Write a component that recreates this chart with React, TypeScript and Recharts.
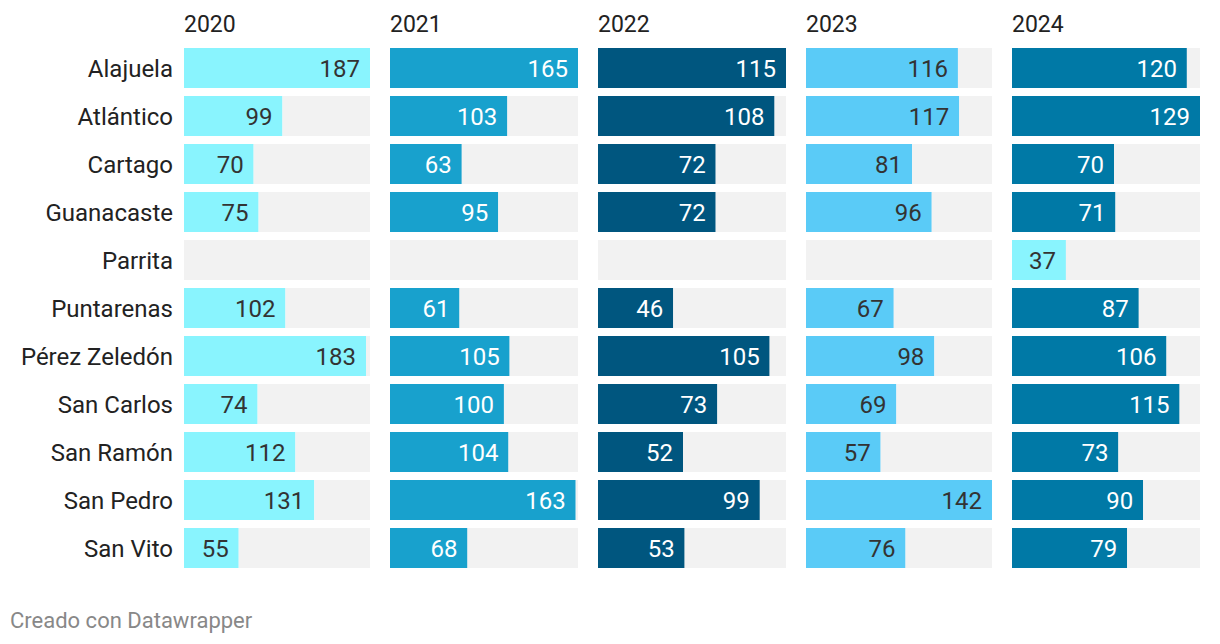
import React from "react";
import { BarChart, Bar, XAxis, YAxis, Cell, LabelList } from "recharts";

const regions = [
  "Alajuela",
  "Atlántico",
  "Cartago",
  "Guanacaste",
  "Parrita",
  "Puntarenas",
  "Pérez Zeledón",
  "San Carlos",
  "San Ramón",
  "San Pedro",
  "San Vito",
];
const years = ["2020", "2021", "2022", "2023", "2024"];

const v2020 = [187, 99, 70, 75, null, 102, 183, 74, 112, 131, 55];
const v2021 = [165, 103, 63, 95, null, 61, 105, 100, 104, 163, 68];
const v2022 = [115, 108, 72, 72, null, 46, 105, 73, 52, 99, 53];
const v2023 = [116, 117, 81, 96, null, 67, 98, 69, 57, 142, 76];
const v2024 = [120, 129, 70, 71, 37, 87, 106, 115, 73, 90, 79];

const LIGHT = "#89f4fe";
const panelColors = ["#89f4fe", "#18a1cd", "#00567f", "#5acbf7", "#0079a6"];
const lightFills = ["#89f4fe", "#5acbf7"];

const panels = [v2020, v2021, v2022, v2023, v2024];
const panelX = [184, 390, 598, 806, 1012];
const panelW = [186, 188, 188, 186, 188];
const TOP = 44;
const PLOT_H = 528;
const FONT = "Roboto, sans-serif";

const fillFor = (panel: number, i: number) =>
  panel === 4 && regions[i] === "Parrita" ? LIGHT : panelColors[panel];

// label content keyed by region name (LabelList index skips empty rows)
const makeLabel = (panel: number) => (props: any) => {
  const { x, y, width, height } = props;
  const i = regions.indexOf(props.value);
  const value = panels[panel][i];
  if (value == null || i < 0) return null;
  const fill = fillFor(panel, i);
  const color = lightFills.includes(fill) ? "#333333" : "#ffffff";
  return (
    <text
      x={x + width - 10}
      y={y + height / 2}
      dy="0.36em"
      textAnchor="end"
      fontSize={24}
      fontFamily={FONT}
      fill={color}
    >
      {value}
    </text>
  );
};

export default function App() {
  return (
    <div
      style={{
        position: "absolute",
        left: 0,
        top: 0,
        width: 1220,
        height: 644,
        background: "#fff",
        fontFamily: FONT,
      }}
    >
      <svg
        width={1220}
        height={644}
        style={{ position: "absolute", left: 0, top: 0 }}
      >
        {years.map((yr, p) => (
          <text key={yr} x={panelX[p]} y={32} fontSize={23} fill="#222" fontFamily={FONT}>
            {yr}
          </text>
        ))}
        <text x={10} y={628} fontSize={22} fill="#888" fontFamily={FONT}>
          Creado con Datawrapper
        </text>
      </svg>
      {panels.map((vals, p) => {
        const max = Math.max(...(vals.filter((v) => v != null) as number[]));
        // grey remainder up to the panel's max, so empty rows still show a track
        const data = regions.map((name, i) => ({
          name,
          value: vals[i],
          rest: max - (vals[i] ?? 0),
        }));
        const first = p === 0;
        const left = first ? 0 : panelX[p];
        const width = first ? panelX[0] + panelW[0] : panelW[p];
        return (
          <div key={p} style={{ position: "absolute", left, top: TOP }}>
            <BarChart
              layout="vertical"
              width={width}
              height={PLOT_H}
              data={data}
              margin={{ top: 0, right: 0, bottom: 0, left: 0 }}
            >
              <XAxis type="number" hide domain={[0, "dataMax"]} />
              <YAxis
                type="category"
                dataKey="name"
                hide={!first}
                width={first ? panelX[0] : 0}
                axisLine={false}
                tickLine={false}
                tickSize={0}
                tickMargin={11}
                tick={{ fontSize: 24, fill: "#222", fontFamily: FONT }}
                interval={0}
              />
              <Bar dataKey="value" stackId="s" barSize={40} isAnimationActive={false}>
                {data.map((d, i) => (
                  <Cell key={d.name} fill={fillFor(p, i)} />
                ))}
                <LabelList dataKey="name" content={makeLabel(p)} />
              </Bar>
              <Bar
                dataKey="rest"
                stackId="s"
                barSize={40}
                fill="#f2f2f2"
                isAnimationActive={false}
              />
            </BarChart>
          </div>
        );
      })}
    </div>
  );
}
